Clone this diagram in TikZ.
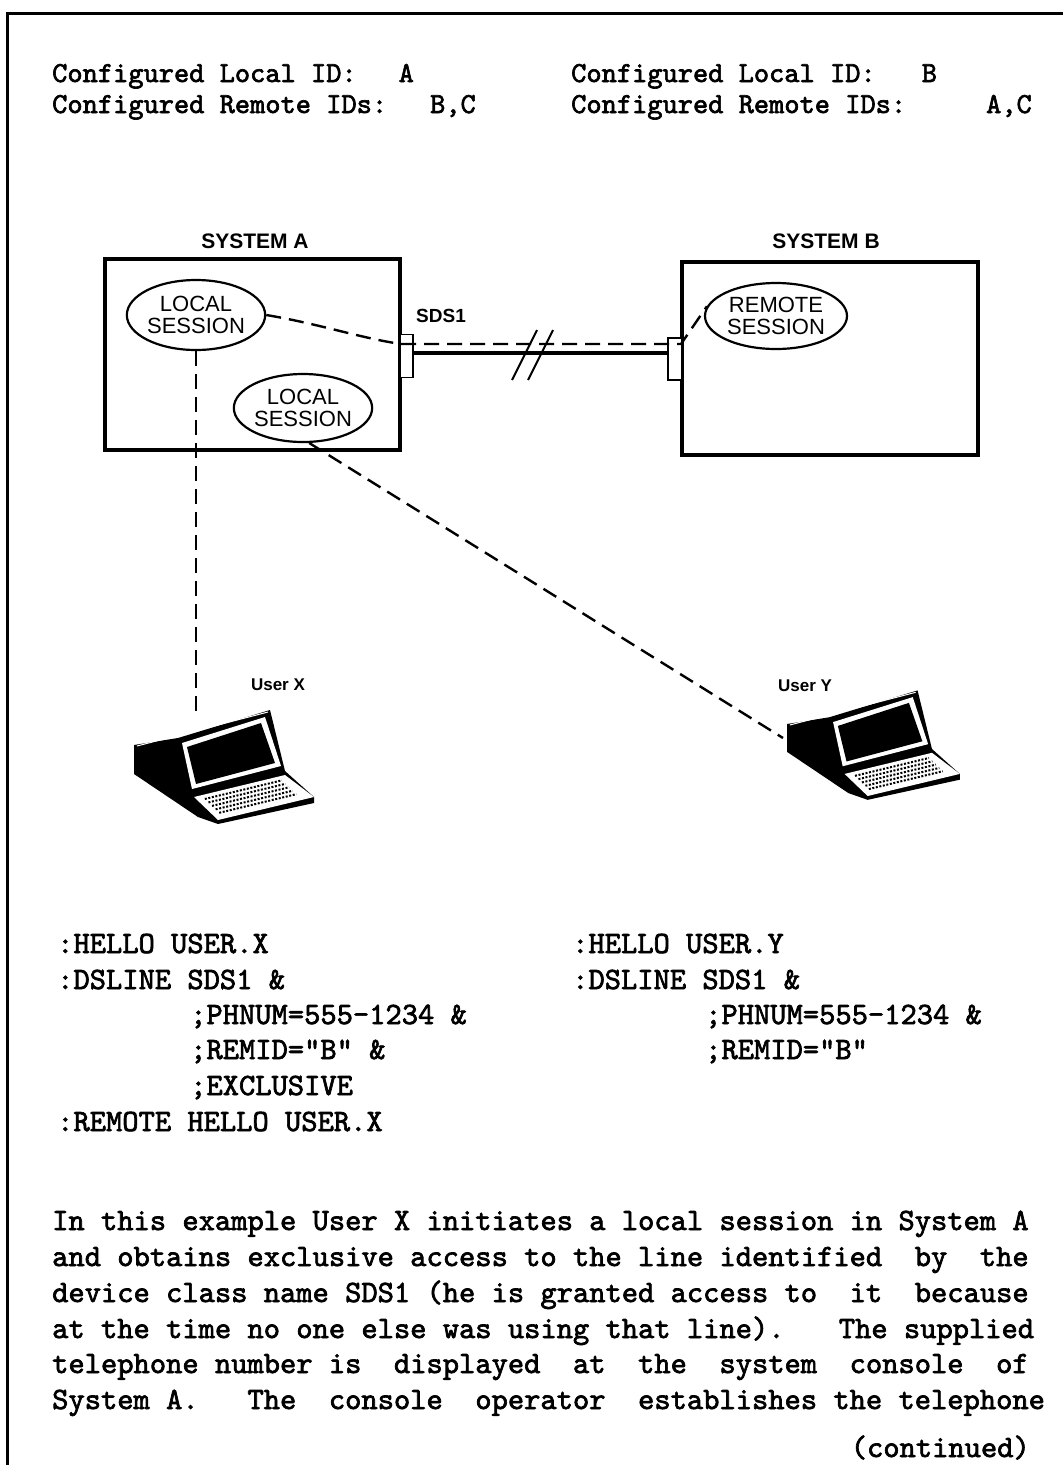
\documentclass[tikz,border=0pt]{standalone}
\usepackage{fontspec}
\setsansfont{Liberation Sans}
\newfontfamily\typ{lmmono10-regular}[Extension=.otf, FakeBold=2.2]
\usetikzlibrary{shapes.geometric}
\tikzset{
  ttx/.style={font=\fontsize{31}{36}\selectfont\typ, anchor=base west, inner sep=0pt},
  hdr/.style={font=\fontsize{29}{34}\selectfont\typ, anchor=base west, inner sep=0pt},
  syslbl/.style={font=\fontsize{21}{23}\selectfont\sffamily\bfseries, inner sep=0pt},
  usrlbl/.style={font=\fontsize{17}{19}\selectfont\sffamily\bfseries, inner sep=0pt},
  sess/.style={ellipse, draw, line width=2.2pt, inner sep=0pt, align=center,
    font=\fontsize{22}{22}\selectfont\sffamily},
  sysbox/.style={draw, line width=4pt, inner sep=0pt},
  stubbox/.style={draw, fill=white, line width=1.8pt, inner sep=0pt},
  dashln/.style={line width=2.4pt, dash pattern=on 15pt off 8pt},
  terminal/.pic={
    \fill (0,0) -- (44,-7) -- (136,-35) -- (151,26) -- (180,52) -- (180,58) -- (84,79) -- (64,72) -- (0,29) -- cycle;
    \draw[white, line width=1pt] (3,1) -- (134,-33);
    \fill[white] (48,-2) -- (131,-28) -- (147,21) -- (58,44) -- cycle;
    \fill (53,2) -- (127,-22) -- (141,18) -- (62,39) -- cycle;
    \fill[white] (60,52) -- (151,30) -- (180,52) -- (84,75) -- cycle;
    \foreach \t in {0.16,0.31,0.46,0.61,0.76}{
      \draw[line width=2pt, dash pattern=on 2pt off 1.6pt] ({60+24*\t+7},{52+23*\t-1.7}) -- ({60+24*\t+84},{52+23*\t-20.3});
    }
  }
}
\begin{document}
\begin{tikzpicture}[x=1pt,y=-1pt]
\useasboundingbox (0,0) rectangle (1063,1465);
% page frame
\draw[line width=3pt] (7,1465) -- (7,13) -- (1063,13);

% header
\node[hdr] (h1) at (52,82) {Configured Local ID:\hspace{42pt}A};
\node[hdr] (h2) at (52,113) {Configured Remote IDs:\hspace{43pt}B,C};
\node[hdr] (h3) at (571,82) {Configured Local ID:\hspace{46pt}B};
\node[hdr] (h4) at (571,113) {Configured Remote IDs:\hspace{80pt}A,C};

% systems
\node[syslbl] (la) at (255,241) {SYSTEM A};
\node[syslbl] (lb) at (826,241) {SYSTEM B};
\node[sysbox, minimum width=295pt, minimum height=191pt] (sysA) at (252.5,354.5) {};
\node[sysbox, minimum width=296pt, minimum height=193pt] (sysB) at (830,358.5) {};
\node[syslbl, font=\fontsize{19}{21}\selectfont\sffamily\bfseries] (sds) at (441,316) {SDS1};

\node[stubbox, minimum width=13pt, minimum height=43pt] (stA) at (406.5,356) {};
\node[stubbox, minimum width=14pt, minimum height=42pt] (stB) at (675,359) {};

\node[sess, minimum width=132pt, minimum height=70pt] (ls1) at (196,315) {LOCAL\\SESSION};
\node[sess, minimum width=136pt, minimum height=68pt] (ls2) at (303,408) {LOCAL\\SESSION};
\node[sess, minimum width=142pt, minimum height=66pt] (rs) at (776,316) {REMOTE\\SESSION};

% line SDS1
\coordinate (sa) at (413,353);
\coordinate (sb) at (668,353);
\draw[line width=4pt] (sa) -- (sb);
\draw[line width=2pt] (512,380) -- (537,330);
\draw[line width=2pt] (528,380) -- (553,330);

\coordinate (da) at (401,344);
\coordinate (db) at (681,344);
\draw[dashln] (ls1.east) .. controls (320,324) and (360,338) .. (da) -- (db) -- (rs.172);

% users
\coordinate (tx) at (196,718);
\coordinate (ty) at (783,738);
\draw[dashln] (ls1.south) -- (tx);
\draw[dashln] (ls2.-80) -- (ty);

\node[usrlbl] (ux) at (278,685) {User X};
\node[usrlbl] (uy) at (805,686) {User Y};
\pic at (134,745) {terminal};
\pic[scale=0.96] at (787,724) {terminal};

% commands
\node[ttx] (c1) at (57,953) {:HELLO USER.X};
\node[ttx] (c2) at (57,989) {:DSLINE SDS1 \&};
\node[ttx] (c3) at (190,1024) {;PHNUM=555-1234 \&};
\node[ttx] (c4) at (190,1059) {;REMID="B" \&};
\node[ttx] (c5) at (190,1095) {;EXCLUSIVE};
\node[ttx] (c6) at (57,1131) {:REMOTE HELLO USER.X};
\node[ttx] (d1) at (572,953) {:HELLO USER.Y};
\node[ttx] (d2) at (572,989) {:DSLINE SDS1 \&};
\node[ttx] (d3) at (705,1024) {;PHNUM=555-1234 \&};
\node[ttx] (d4) at (705,1059) {;REMID="B"};

% paragraph
\node[ttx] (p1) at (52,1230) {In this example User X initiates a local session in System A};
\node[ttx] (p2) at (52,1266) {and obtains exclusive access to the line identified~ by~ the};
\node[ttx] (p3) at (52,1302) {device class name SDS1 (he is granted access to~ it~ because};
\node[ttx] (p4) at (52,1338) {at the time no one else was using that line).~~ The supplied};
\node[ttx] (p5) at (52,1373) {telephone number is~ displayed~ at~ the~ system~ console~ of};
\node[ttx] (p6) at (52,1409) {System A.~~ The~ console~ operator~ establishes the telephone};
\node[ttx, anchor=base east] (cont) at (1030,1457) {(continued)};
\end{tikzpicture}
\end{document}
